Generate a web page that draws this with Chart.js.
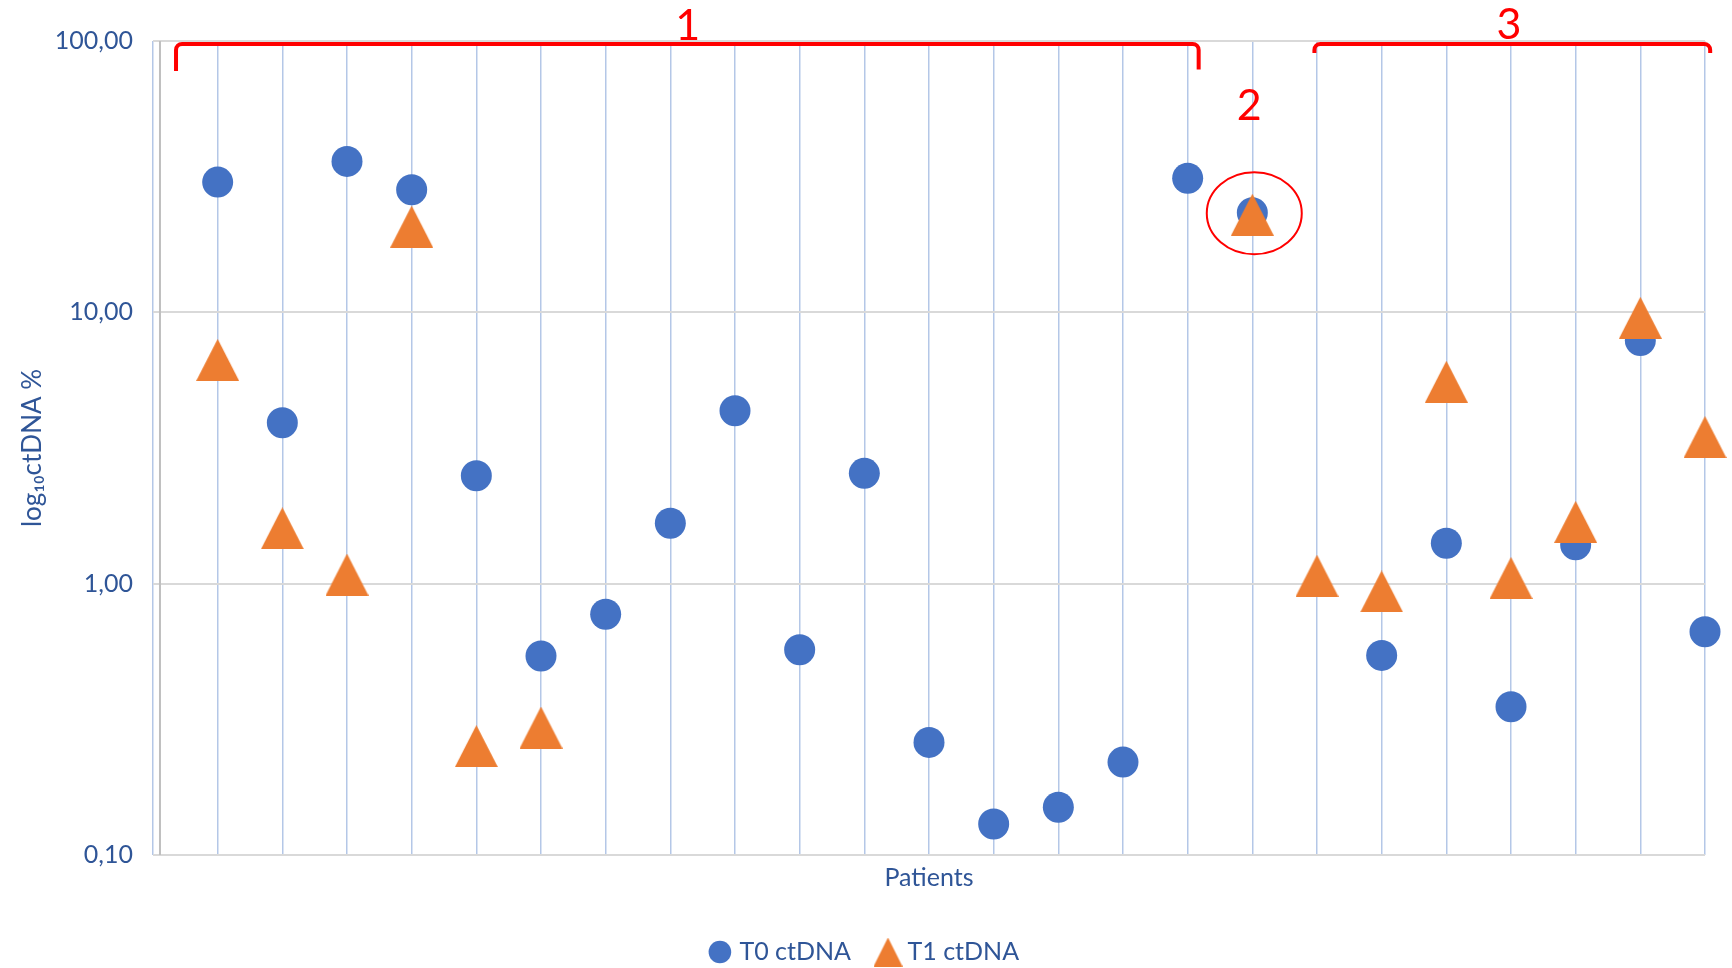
<!DOCTYPE html>
<html>
<head>
<meta charset="utf-8">
<script src="https://cdn.jsdelivr.net/npm/chart.js@4/dist/chart.umd.min.js"></script>
<style>
  html, body { margin: 0; padding: 0; background: #ffffff; }
  #wrap { width: 1732px; height: 968px; }
</style>
</head>
<body>
<div id="wrap"><canvas id="c" width="1732" height="968"></canvas></div>
<script>
// ---- data ----
const patients = [1,2,3,4,5,6,7,8,9,10,11,12,13,14,15,16,17,18,19,20,21,22,23,24];
const t0Values = [30.2, 3.92, 36.0, 28.3, 2.50, 0.541, 0.771, 1.67, 4.34, 0.571, 2.55, 0.260,
                  0.130, 0.150, 0.220, 31.2, 23.3, null, 0.544, 1.41, 0.352, 1.39, 7.87, 0.665];
const t1Values = [6.68, 1.60, 1.08, 20.7, 0.252, 0.295, null, null, null, null, null, null,
                  null, null, null, null, 22.9, 1.07, 0.936, 5.55, 1.05, 1.69, 9.55, 3.47];
const yTicks = [0.1, 1, 10, 100];
const seriesNames = ['T0 ctDNA', 'T1 ctDNA'];
const groupLabels = ['1', '2', '3'];

// ---- styles ----
const BLUE = '#4472C4', ORANGE = '#ED7D31', TEXT = '#2F5597', RED = '#FF0000';
const FONT = 'Lato, "Open Sans", sans-serif';

function makeTriangle(w, h, color) {
  const c = document.createElement('canvas');
  c.width = w; c.height = h;
  const g = c.getContext('2d');
  g.fillStyle = color;
  g.beginPath();
  g.moveTo(w / 2, 0);
  g.lineTo(w, h);
  g.lineTo(0, h);
  g.closePath();
  g.fill();
  return c;
}
const triMarker = makeTriangle(43, 42, ORANGE);
const triLegend = makeTriangle(29, 29, ORANGE);

// annotation placement (in data units)
const annot = {
  brackets: [
    { from: 0.356, to: 16.17, top: 97.5, legL: 77.5, legR: 78.5 },
    { from: 17.96, to: 24.08, top: 97.5, legL: 90.3, legR: 90.3 }
  ],
  labels: [
    { text: groupLabels[0], x: 8.27, y: 115 },
    { text: groupLabels[1], x: 16.95, y: 58.1 },
    { text: groupLabels[2], x: 20.97, y: 116.5 }
  ],
  ellipse: { x: 17.03, y: 23.2, rx: 47.5, ry: 41 },
  axisAt: 0.108
};

const annotPlugin = {
  id: 'annot',
  beforeDatasetsDraw(chart) {
    const { ctx, chartArea } = chart;
    const xs = chart.scales.x;
    const px = xs.getPixelForValue(annot.axisAt);
    ctx.save();
    ctx.strokeStyle = '#BFBFBF';
    ctx.lineWidth = 2;
    ctx.beginPath();
    ctx.moveTo(px, chartArea.top);
    ctx.lineTo(px, chartArea.bottom);
    ctx.stroke();
    ctx.restore();
  },
  afterDatasetsDraw(chart) {
    const { ctx } = chart;
    const xs = chart.scales.x, ys = chart.scales.y;
    ctx.save();
    ctx.strokeStyle = RED;
    ctx.lineWidth = 4;
    ctx.lineJoin = 'round';
    annot.brackets.forEach(b => {
      const xl = xs.getPixelForValue(b.from), xr = xs.getPixelForValue(b.to);
      const yt = ys.getPixelForValue(b.top);
      const yl = ys.getPixelForValue(b.legL), yr = ys.getPixelForValue(b.legR);
      const r = 6;
      ctx.beginPath();
      ctx.moveTo(xl, yl);
      ctx.arcTo(xl, yt, xl + r, yt, r);
      ctx.arcTo(xr, yt, xr, yt + r, r);
      ctx.lineTo(xr, yr);
      ctx.stroke();
    });
    const e = annot.ellipse;
    ctx.lineWidth = 2;
    ctx.beginPath();
    ctx.ellipse(xs.getPixelForValue(e.x), ys.getPixelForValue(e.y), e.rx, e.ry, 0, 0, Math.PI * 2);
    ctx.stroke();
    ctx.fillStyle = RED;
    ctx.font = '43px ' + FONT;
    ctx.textAlign = 'center';
    ctx.textBaseline = 'alphabetic';
    annot.labels.forEach(l => {
      ctx.fillText(l.text, xs.getPixelForValue(l.x), ys.getPixelForValue(l.y) + 15.5);
    });
    ctx.restore();
  }
};

const fmt = v => Number(v).toFixed(2).replace('.', ',');

new Chart(document.getElementById('c'), {
  type: 'scatter',
  data: {
    datasets: [
      {
        label: seriesNames[0],
        data: patients.map((p, i) => ({ x: p, y: t0Values[i] })),
        pointStyle: 'circle',
        pointRadius: 15.5,
        pointHoverRadius: 15.5,
        backgroundColor: BLUE,
        borderColor: BLUE,
        borderWidth: 0,
        clip: false,
        order: 2
      },
      {
        label: seriesNames[1],
        data: patients.map((p, i) => ({ x: p, y: t1Values[i] })),
        pointStyle: triMarker,
        pointRadius: 21,
        backgroundColor: ORANGE,
        borderColor: ORANGE,
        borderWidth: 0,
        clip: false,
        order: 1
      }
    ]
  },
  options: {
    responsive: false,
    devicePixelRatio: 1,
    animation: false,
    layout: { padding: { left: 0, right: 0, top: 41, bottom: -6.5 } },
    scales: {
      x: {
        type: 'linear',
        min: 0,
        max: 24,
        ticks: { stepSize: 1, display: false },
        grid: { color: '#B4C7E7', lineWidth: 1.5, drawTicks: false },
        border: { display: false },
        title: {
          display: true,
          text: 'Patients',
          color: TEXT,
          font: { family: FONT, size: 25 },
          padding: { top: 0, bottom: 16.5 }
        },
        afterFit: s => { s.height = 54.5; }
      },
      y: {
        type: 'logarithmic',
        min: 0.1,
        max: 100,
        afterBuildTicks: s => { s.ticks = yTicks.map(v => ({ value: v })); },
        ticks: {
          color: TEXT,
          font: { family: FONT, size: 25 },
          padding: 20,
          callback: v => fmt(v)
        },
        grid: { color: '#D9D9D9', lineWidth: 2, drawTicks: false },
        border: { display: false },
        title: {
          display: true,
          text: 'log\u2081\u2080ctDNA %',
          color: TEXT,
          font: { family: FONT, size: 26 },
          padding: { top: 17.4, bottom: 0 }
        },
        afterFit: s => { s.width = 153; }
      },
      yRight: {
        type: 'linear',
        position: 'right',
        display: true,
        grid: { display: false, drawTicks: false },
        border: { display: false },
        ticks: { display: false },
        afterFit: s => { s.width = 27; }
      }
    },
    plugins: {
      tooltip: { enabled: false },
      legend: {
        position: 'bottom',
        labels: {
          usePointStyle: true,
          boxWidth: 14,
          boxHeight: 16,
          padding: 30,
          color: TEXT,
          font: { family: FONT, size: 25 },
          sort: (a, b) => a.datasetIndex - b.datasetIndex,
          generateLabels: chart => {
            const items = Chart.defaults.plugins.legend.labels.generateLabels(chart);
            items.forEach(it => {
              if (it.datasetIndex === 1) it.pointStyle = triLegend;
            });
            return items;
          }
        }
      }
    }
  },
  plugins: [annotPlugin]
});
</script>
</body>
</html>
